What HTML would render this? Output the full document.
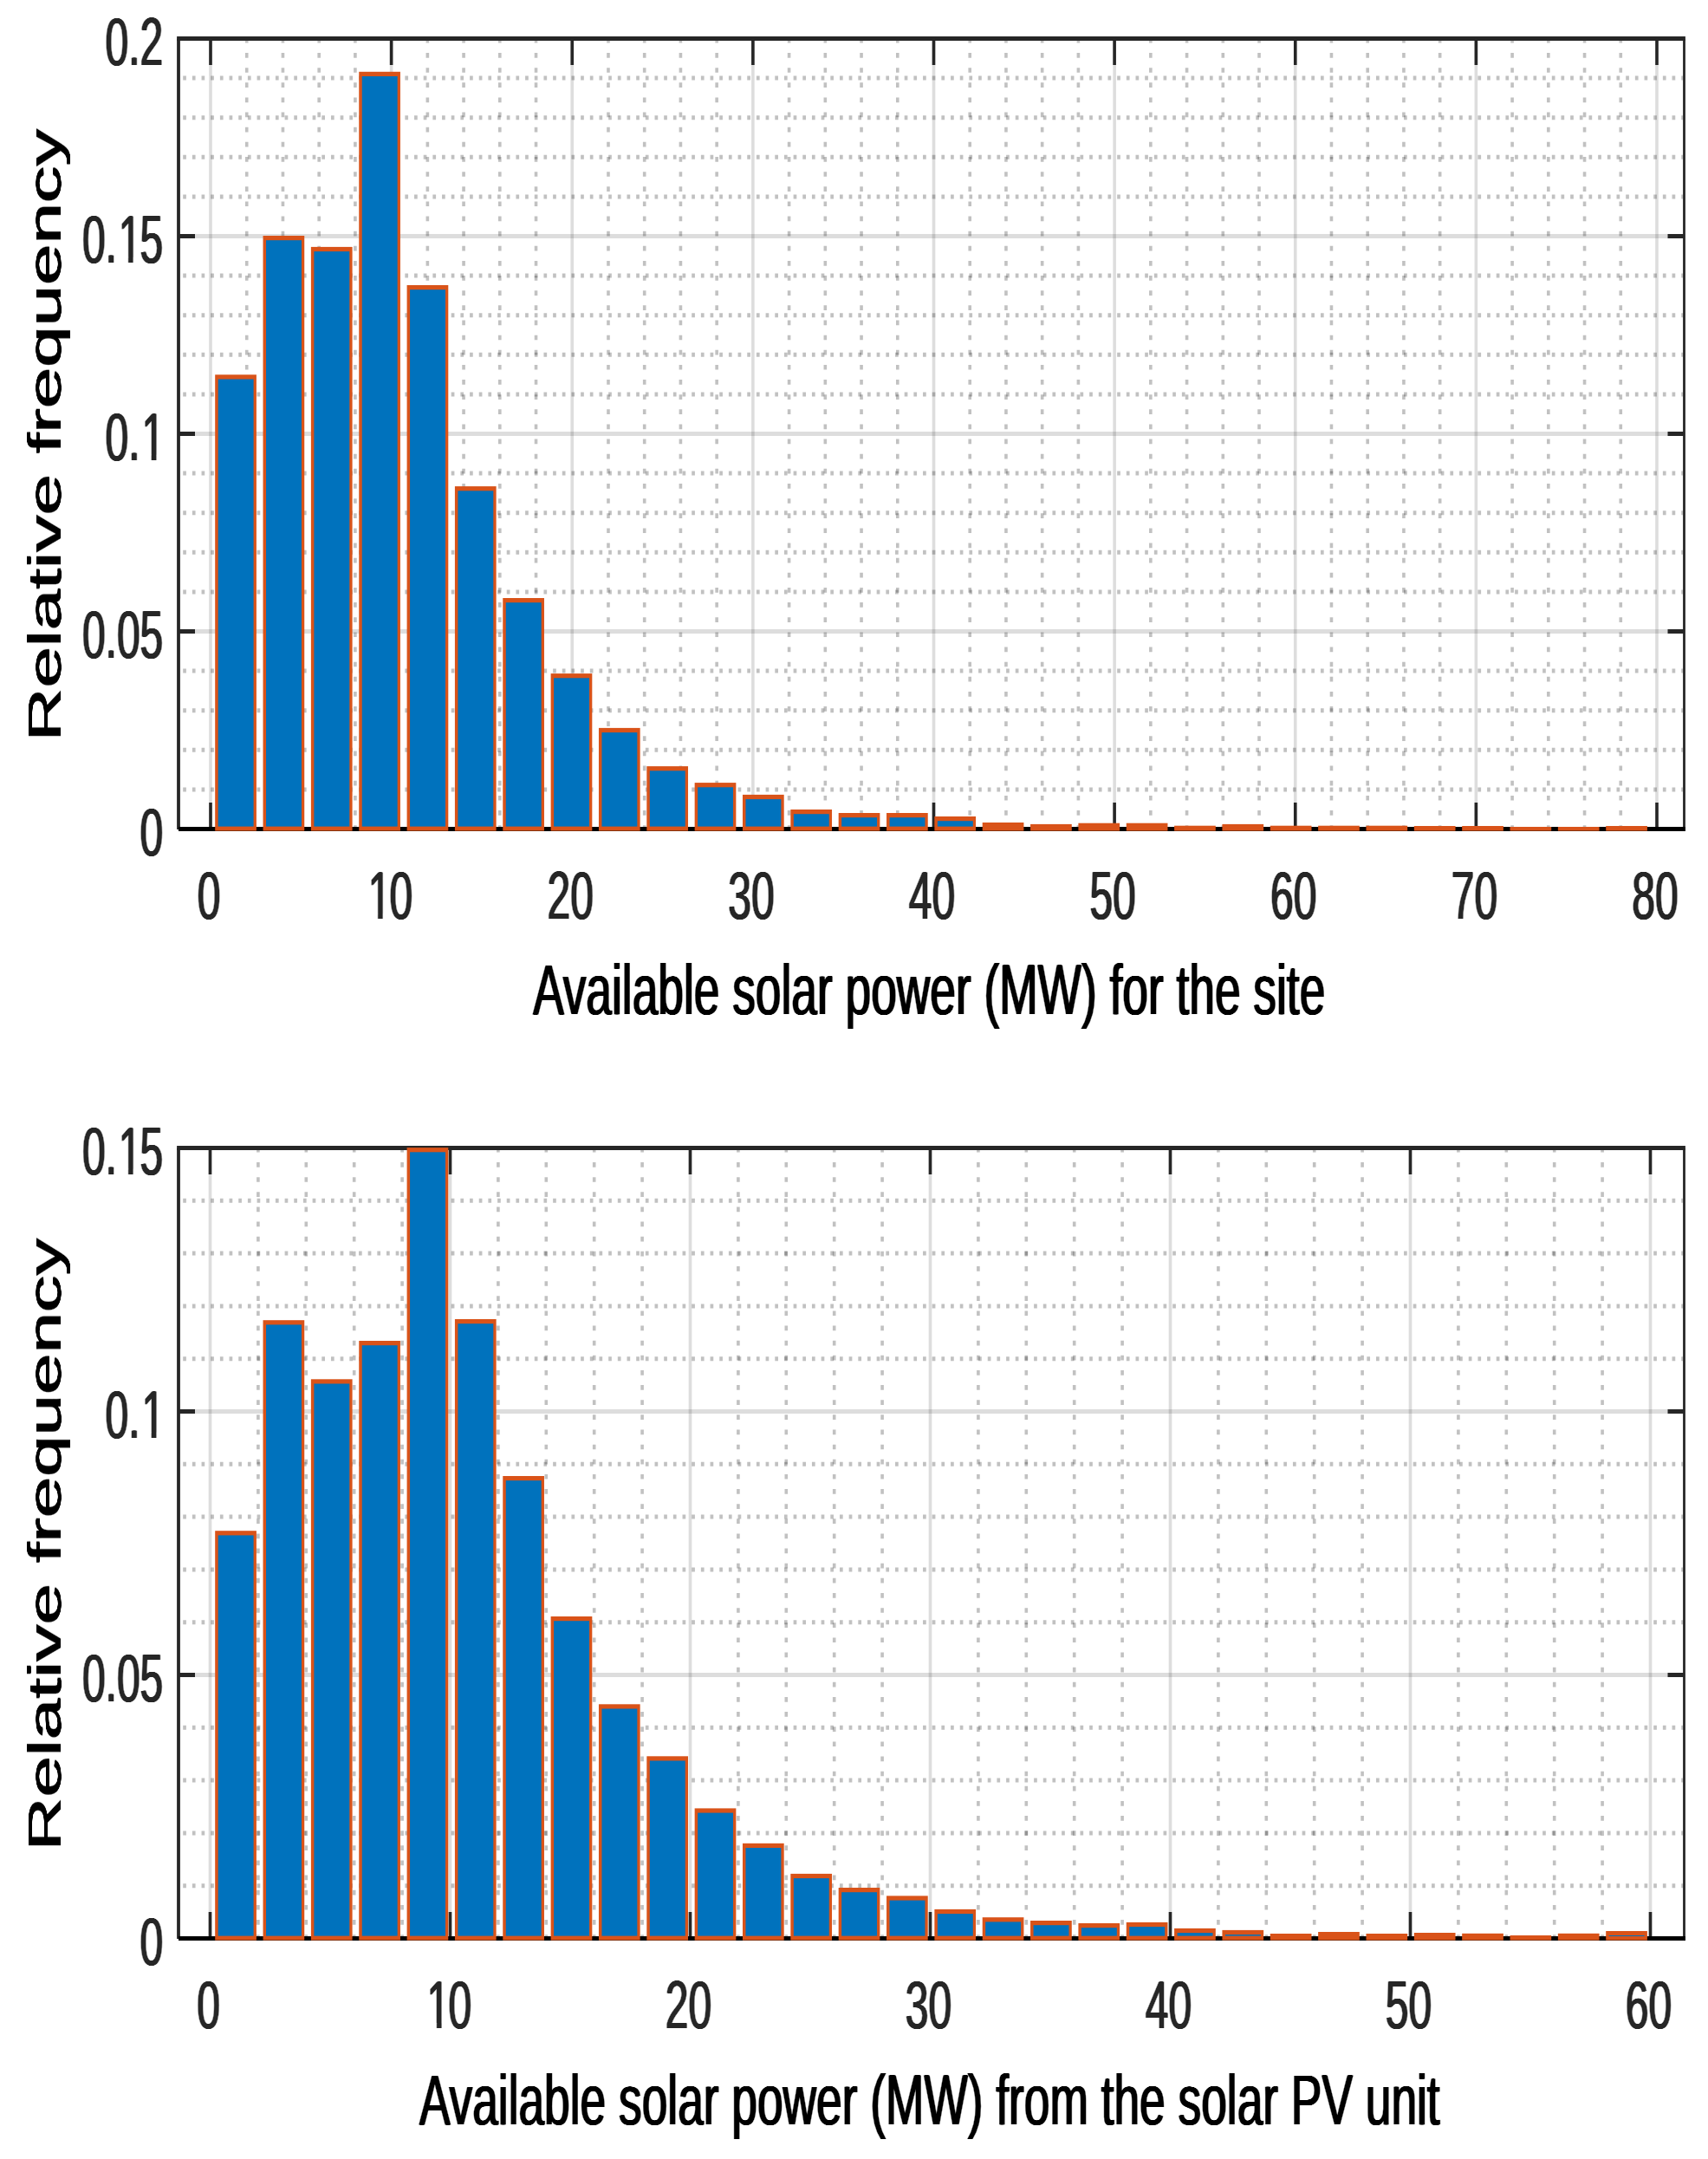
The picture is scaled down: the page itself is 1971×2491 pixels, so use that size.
<!DOCTYPE html>
<html lang="en">
<head>
<meta charset="utf-8">
<title>Relative frequency of available solar power</title>
<style>
html,body{margin:0;padding:0;background:#fff;}
body{width:1971px;height:2491px;overflow:hidden;}
svg{display:block;}
text{font-family:"Liberation Sans",sans-serif;}
.tk text{font-size:48px;fill:#262626;}
.lb{font-size:53.3px;fill:#000;}
</style>
</head>
<body>
<svg width="1971" height="2491" viewBox="0 0 1971 2491">
<defs>
<filter id="bt" x="-5%" y="-5%" width="110%" height="110%" color-interpolation-filters="sRGB"><feConvolveMatrix in="SourceAlpha" order="3 1" kernelMatrix="0.6 1 0.6" divisor="1" edgeMode="none" result="a"/><feFlood flood-color="#262626"/><feComposite in2="a" operator="in"/></filter>
<filter id="bl" x="-5%" y="-5%" width="110%" height="110%" color-interpolation-filters="sRGB"><feConvolveMatrix in="SourceAlpha" order="3 1" kernelMatrix="0.7 1 0.7" divisor="1" edgeMode="none" result="a"/><feFlood flood-color="#000"/><feComposite in2="a" operator="in"/></filter>
<filter id="by" x="-10%" y="-3%" width="120%" height="106%" color-interpolation-filters="sRGB"><feConvolveMatrix in="SourceAlpha" order="3 1" kernelMatrix="0.8 1 0.8" divisor="1" edgeMode="none" result="a"/><feFlood flood-color="#000"/><feComposite in2="a" operator="in"/></filter>
<clipPath id="c10m" clipPathUnits="userSpaceOnUse"><path clip-rule="evenodd" d="M-150 -60H150V30H-150ZM-22.74 -3.71H-12.82V1.2H-22.74ZM-8.58 -3.71H0.96V1.2H-8.58Z"/></clipPath>
<clipPath id="c0_15e" clipPathUnits="userSpaceOnUse"><path clip-rule="evenodd" d="M-150 -60H150V30H-150ZM-49.43 -3.71H-39.52V1.2H-49.43ZM-35.28 -3.71H-25.74V1.2H-35.28Z"/></clipPath>
<clipPath id="c0_1e" clipPathUnits="userSpaceOnUse"><path clip-rule="evenodd" d="M-150 -60H150V30H-150ZM-24.54 -3.71H-14.62V1.2H-24.54ZM-10.38 -3.71H-0.84V1.2H-10.38Z"/></clipPath>
</defs>
<rect width="1971" height="2491" fill="#fff"/>
<g stroke="#262626" stroke-opacity="0.285" stroke-width="5" fill="none" stroke-dasharray="3.7 6.973">
<path d="M211.2 90.1 H1942"/>
<path d="M211.2 135.7 H1942"/>
<path d="M211.2 181.3 H1942"/>
<path d="M211.2 226.9 H1942"/>
<path d="M211.2 318.1 H1942"/>
<path d="M211.2 363.7 H1942"/>
<path d="M211.2 409.3 H1942"/>
<path d="M211.2 454.9 H1942"/>
<path d="M211.2 546.1 H1942"/>
<path d="M211.2 591.7 H1942"/>
<path d="M211.2 637.3 H1942"/>
<path d="M211.2 682.9 H1942"/>
<path d="M211.2 774.1 H1942"/>
<path d="M211.2 819.7 H1942"/>
<path d="M211.2 865.3 H1942"/>
<path d="M211.2 910.9 H1942"/>
</g>
<g stroke="#262626" stroke-opacity="0.285" stroke-width="3.6" fill="none" stroke-dasharray="5.7 11.437">
<path d="M284.73 43.9 V956.5"/>
<path d="M326.45 43.9 V956.5"/>
<path d="M368.18 43.9 V956.5"/>
<path d="M409.9 43.9 V956.5"/>
<path d="M493.35 43.9 V956.5"/>
<path d="M535.08 43.9 V956.5"/>
<path d="M576.8 43.9 V956.5"/>
<path d="M618.52 43.9 V956.5"/>
<path d="M701.98 43.9 V956.5"/>
<path d="M743.7 43.9 V956.5"/>
<path d="M785.42 43.9 V956.5"/>
<path d="M827.15 43.9 V956.5"/>
<path d="M910.6 43.9 V956.5"/>
<path d="M952.33 43.9 V956.5"/>
<path d="M994.05 43.9 V956.5"/>
<path d="M1035.78 43.9 V956.5"/>
<path d="M1119.22 43.9 V956.5"/>
<path d="M1160.95 43.9 V956.5"/>
<path d="M1202.67 43.9 V956.5"/>
<path d="M1244.4 43.9 V956.5"/>
<path d="M1327.85 43.9 V956.5"/>
<path d="M1369.58 43.9 V956.5"/>
<path d="M1411.3 43.9 V956.5"/>
<path d="M1453.03 43.9 V956.5"/>
<path d="M1536.47 43.9 V956.5"/>
<path d="M1578.2 43.9 V956.5"/>
<path d="M1619.92 43.9 V956.5"/>
<path d="M1661.65 43.9 V956.5"/>
<path d="M1745.1 43.9 V956.5"/>
<path d="M1786.83 43.9 V956.5"/>
<path d="M1828.55 43.9 V956.5"/>
<path d="M1870.28 43.9 V956.5"/>
</g>
<g stroke="#262626" stroke-opacity="0.155" fill="none">
<path stroke-width="4.8" d="M206 272.5 H1943.5"/>
<path stroke-width="4.8" d="M206 500.5 H1943.5"/>
<path stroke-width="4.8" d="M206 728.5 H1943.5"/>
<path stroke-width="3.6" d="M243 44.5 V956.5"/>
<path stroke-width="3.6" d="M451.62 44.5 V956.5"/>
<path stroke-width="3.6" d="M660.25 44.5 V956.5"/>
<path stroke-width="3.6" d="M868.88 44.5 V956.5"/>
<path stroke-width="3.6" d="M1077.5 44.5 V956.5"/>
<path stroke-width="3.6" d="M1286.12 44.5 V956.5"/>
<path stroke-width="3.6" d="M1494.75 44.5 V956.5"/>
<path stroke-width="3.6" d="M1703.38 44.5 V956.5"/>
<path stroke-width="3.6" d="M1912 44.5 V956.5"/>
</g>
<g stroke="#262626" fill="none">
<path stroke-width="4.8" d="M204.1 44.5 H1944.9"/>
<path stroke-width="3.8" d="M206 44.5 V956.9"/>
<path stroke-width="2.8" d="M1943.5 44.5 V958.9"/>
<path stroke-width="3.6" d="M243 44.5 v30.4 M243 956.5 v-30.4"/>
<path stroke-width="3.6" d="M451.62 44.5 v30.4 M451.62 956.5 v-30.4"/>
<path stroke-width="3.6" d="M660.25 44.5 v30.4 M660.25 956.5 v-30.4"/>
<path stroke-width="3.6" d="M868.88 44.5 v30.4 M868.88 956.5 v-30.4"/>
<path stroke-width="3.6" d="M1077.5 44.5 v30.4 M1077.5 956.5 v-30.4"/>
<path stroke-width="3.6" d="M1286.12 44.5 v30.4 M1286.12 956.5 v-30.4"/>
<path stroke-width="3.6" d="M1494.75 44.5 v30.4 M1494.75 956.5 v-30.4"/>
<path stroke-width="3.6" d="M1703.38 44.5 v30.4 M1703.38 956.5 v-30.4"/>
<path stroke-width="3.6" d="M1912 44.5 v30.4 M1912 956.5 v-30.4"/>
<path stroke-width="4.8" d="M206 44.5 h19 M1943.5 44.5 h-19"/>
<path stroke-width="4.8" d="M206 272.5 h19 M1943.5 272.5 h-19"/>
<path stroke-width="4.8" d="M206 500.5 h19 M1943.5 500.5 h-19"/>
<path stroke-width="4.8" d="M206 728.5 h19 M1943.5 728.5 h-19"/>
<path stroke-width="4.8" d="M206 956.5 h19 M1943.5 956.5 h-19"/>
</g>
<path stroke="#000" stroke-width="5" d="M206 956.5 H1944.9"/>
<g fill="#D95319"><rect x="248.2" y="432.3" width="47.7" height="526.3"/><rect x="303.54" y="272" width="47.7" height="686.6"/><rect x="358.89" y="284.9" width="47.7" height="673.7"/><rect x="414.24" y="82.8" width="47.7" height="875.8"/><rect x="469.58" y="329" width="47.7" height="629.6"/><rect x="524.92" y="561.1" width="47.7" height="397.5"/><rect x="580.27" y="690" width="47.7" height="268.6"/><rect x="635.62" y="777.1" width="47.7" height="181.5"/><rect x="690.96" y="839.9" width="47.7" height="118.7"/><rect x="746.31" y="884.1" width="47.7" height="74.5"/><rect x="801.65" y="903.1" width="47.7" height="55.5"/><rect x="856.99" y="916.9" width="47.7" height="41.7"/><rect x="912.34" y="934" width="47.7" height="24.6"/><rect x="967.68" y="938" width="47.7" height="20.6"/><rect x="1023.03" y="938" width="47.7" height="20.6"/><rect x="1078.38" y="942" width="47.7" height="16.6"/><rect x="1133.72" y="949" width="47.7" height="9.6"/><rect x="1189.07" y="950.9" width="47.7" height="7.7"/><rect x="1244.41" y="949.7" width="47.7" height="8.9"/><rect x="1299.76" y="949.7" width="47.7" height="8.9"/><rect x="1355.1" y="952.7" width="47.7" height="5.9"/><rect x="1410.44" y="950.9" width="47.7" height="7.7"/><rect x="1465.79" y="952.7" width="47.7" height="5.9"/><rect x="1521.13" y="952.7" width="47.7" height="5.9"/><rect x="1576.48" y="952.7" width="47.7" height="5.9"/><rect x="1631.83" y="953" width="47.7" height="5.6"/><rect x="1687.17" y="953" width="47.7" height="5.6"/><rect x="1742.52" y="954" width="47.7" height="4.6"/><rect x="1797.86" y="954" width="47.7" height="4.6"/><rect x="1853.2" y="953" width="47.7" height="5.6"/></g>
<g fill="#0072BD"><rect x="251.7" y="437.5" width="40.9" height="516.1"/><rect x="307.04" y="277.2" width="40.9" height="676.4"/><rect x="362.39" y="290.1" width="40.9" height="663.5"/><rect x="417.74" y="88" width="40.9" height="865.6"/><rect x="473.08" y="334.2" width="40.9" height="619.4"/><rect x="528.42" y="566.3" width="40.9" height="387.3"/><rect x="583.77" y="695.2" width="40.9" height="258.4"/><rect x="639.12" y="782.3" width="40.9" height="171.3"/><rect x="694.46" y="845.1" width="40.9" height="108.5"/><rect x="749.81" y="889.3" width="40.9" height="64.3"/><rect x="805.15" y="908.3" width="40.9" height="45.3"/><rect x="860.49" y="922.1" width="40.9" height="31.5"/><rect x="915.84" y="939.2" width="40.9" height="14.4"/><rect x="971.18" y="943.2" width="40.9" height="10.4"/><rect x="1026.53" y="943.2" width="40.9" height="10.4"/><rect x="1081.88" y="947.2" width="40.9" height="6.4"/></g>
<g class="tk" filter="url(#bt)">
<text text-anchor="middle" transform="translate(241 1060) scale(1 1.62)">0</text>
<text text-anchor="middle" dx="0.9 -1.8" clip-path="url(#c10m)" transform="translate(449.62 1060) scale(1 1.62)">10</text>
<text text-anchor="middle" transform="translate(658.25 1060) scale(1 1.62)">20</text>
<text text-anchor="middle" transform="translate(866.88 1060) scale(1 1.62)">30</text>
<text text-anchor="middle" transform="translate(1075.5 1060) scale(1 1.62)">40</text>
<text text-anchor="middle" transform="translate(1284.12 1060) scale(1 1.62)">50</text>
<text text-anchor="middle" transform="translate(1492.75 1060) scale(1 1.62)">60</text>
<text text-anchor="middle" transform="translate(1701.38 1060) scale(1 1.62)">70</text>
<text text-anchor="middle" transform="translate(1910 1060) scale(1 1.62)">80</text>
<text text-anchor="end" transform="translate(188.3 74.8) scale(1 1.62)">0.2</text>
<text text-anchor="end" dx="0 0 1.8 -1.8" clip-path="url(#c0_15e)" transform="translate(188.3 302.8) scale(1 1.62)">0.15</text>
<text text-anchor="end" dx="0 0 1.8" clip-path="url(#c0_1e)" transform="translate(190.1 530.8) scale(1 1.62)">0.1</text>
<text text-anchor="end" transform="translate(188.3 758.8) scale(1 1.62)">0.05</text>
<text text-anchor="end" transform="translate(188.3 986.8) scale(1 1.62)">0</text>
</g>
<text class="lb" filter="url(#bl)" text-anchor="middle" transform="translate(1072.2 1169.6) scale(1 1.53)">Available solar power (MW) for the site</text>
<text class="lb" filter="url(#by)" text-anchor="middle" transform="translate(70 501.9) scale(1 1.6) rotate(-90)">Relative frequency</text>
<g stroke="#262626" stroke-opacity="0.285" stroke-width="5" fill="none" stroke-dasharray="3.7 6.973">
<path d="M211.2 1385.3 H1942"/>
<path d="M211.2 1446.1 H1942"/>
<path d="M211.2 1506.9 H1942"/>
<path d="M211.2 1567.7 H1942"/>
<path d="M211.2 1689.3 H1942"/>
<path d="M211.2 1750.1 H1942"/>
<path d="M211.2 1810.9 H1942"/>
<path d="M211.2 1871.7 H1942"/>
<path d="M211.2 1993.3 H1942"/>
<path d="M211.2 2054.1 H1942"/>
<path d="M211.2 2114.9 H1942"/>
<path d="M211.2 2175.7 H1942"/>
</g>
<g stroke="#262626" stroke-opacity="0.285" stroke-width="3.6" fill="none" stroke-dasharray="5.7 11.437">
<path d="M297.9 1323.9 V2236.5"/>
<path d="M353.3 1323.9 V2236.5"/>
<path d="M408.7 1323.9 V2236.5"/>
<path d="M464.1 1323.9 V2236.5"/>
<path d="M574.9 1323.9 V2236.5"/>
<path d="M630.3 1323.9 V2236.5"/>
<path d="M685.7 1323.9 V2236.5"/>
<path d="M741.1 1323.9 V2236.5"/>
<path d="M851.9 1323.9 V2236.5"/>
<path d="M907.3 1323.9 V2236.5"/>
<path d="M962.7 1323.9 V2236.5"/>
<path d="M1018.1 1323.9 V2236.5"/>
<path d="M1128.9 1323.9 V2236.5"/>
<path d="M1184.3 1323.9 V2236.5"/>
<path d="M1239.7 1323.9 V2236.5"/>
<path d="M1295.1 1323.9 V2236.5"/>
<path d="M1405.9 1323.9 V2236.5"/>
<path d="M1461.3 1323.9 V2236.5"/>
<path d="M1516.7 1323.9 V2236.5"/>
<path d="M1572.1 1323.9 V2236.5"/>
<path d="M1682.9 1323.9 V2236.5"/>
<path d="M1738.3 1323.9 V2236.5"/>
<path d="M1793.7 1323.9 V2236.5"/>
<path d="M1849.1 1323.9 V2236.5"/>
</g>
<g stroke="#262626" stroke-opacity="0.155" fill="none">
<path stroke-width="4.8" d="M206 1628.5 H1943.5"/>
<path stroke-width="4.8" d="M206 1932.5 H1943.5"/>
<path stroke-width="3.6" d="M242.5 1324.5 V2236.5"/>
<path stroke-width="3.6" d="M519.5 1324.5 V2236.5"/>
<path stroke-width="3.6" d="M796.5 1324.5 V2236.5"/>
<path stroke-width="3.6" d="M1073.5 1324.5 V2236.5"/>
<path stroke-width="3.6" d="M1350.5 1324.5 V2236.5"/>
<path stroke-width="3.6" d="M1627.5 1324.5 V2236.5"/>
<path stroke-width="3.6" d="M1904.5 1324.5 V2236.5"/>
</g>
<g stroke="#262626" fill="none">
<path stroke-width="4.8" d="M204.1 1324.5 H1944.9"/>
<path stroke-width="3.8" d="M206 1324.5 V2236.9"/>
<path stroke-width="2.8" d="M1943.5 1324.5 V2238.9"/>
<path stroke-width="3.6" d="M242.5 1324.5 v30.4 M242.5 2236.5 v-30.4"/>
<path stroke-width="3.6" d="M519.5 1324.5 v30.4 M519.5 2236.5 v-30.4"/>
<path stroke-width="3.6" d="M796.5 1324.5 v30.4 M796.5 2236.5 v-30.4"/>
<path stroke-width="3.6" d="M1073.5 1324.5 v30.4 M1073.5 2236.5 v-30.4"/>
<path stroke-width="3.6" d="M1350.5 1324.5 v30.4 M1350.5 2236.5 v-30.4"/>
<path stroke-width="3.6" d="M1627.5 1324.5 v30.4 M1627.5 2236.5 v-30.4"/>
<path stroke-width="3.6" d="M1904.5 1324.5 v30.4 M1904.5 2236.5 v-30.4"/>
<path stroke-width="4.8" d="M206 1324.5 h19 M1943.5 1324.5 h-19"/>
<path stroke-width="4.8" d="M206 1628.5 h19 M1943.5 1628.5 h-19"/>
<path stroke-width="4.8" d="M206 1932.5 h19 M1943.5 1932.5 h-19"/>
<path stroke-width="4.8" d="M206 2236.5 h19 M1943.5 2236.5 h-19"/>
</g>
<path stroke="#000" stroke-width="5" d="M206 2236.5 H1944.9"/>
<g fill="#D95319"><rect x="248.2" y="1766.2" width="47.7" height="472.4"/><rect x="303.54" y="1523.2" width="47.7" height="715.4"/><rect x="358.89" y="1591.3" width="47.7" height="647.3"/><rect x="414.24" y="1547" width="47.7" height="691.6"/><rect x="469.58" y="1324.1" width="47.7" height="914.5"/><rect x="524.92" y="1522" width="47.7" height="716.6"/><rect x="580.27" y="1703" width="47.7" height="535.6"/><rect x="635.62" y="1865" width="47.7" height="373.6"/><rect x="690.96" y="1966.3" width="47.7" height="272.3"/><rect x="746.31" y="2026.3" width="47.7" height="212.3"/><rect x="801.65" y="2086.4" width="47.7" height="152.2"/><rect x="856.99" y="2126.8" width="47.7" height="111.8"/><rect x="912.34" y="2161.9" width="47.7" height="76.7"/><rect x="967.68" y="2178" width="47.7" height="60.6"/><rect x="1023.03" y="2187.4" width="47.7" height="51.2"/><rect x="1078.38" y="2202.9" width="47.7" height="35.7"/><rect x="1133.72" y="2212.2" width="47.7" height="26.4"/><rect x="1189.07" y="2216" width="47.7" height="22.6"/><rect x="1244.41" y="2219" width="47.7" height="19.6"/><rect x="1299.76" y="2217.9" width="47.7" height="20.7"/><rect x="1355.1" y="2224.9" width="47.7" height="13.7"/><rect x="1410.44" y="2226.9" width="47.7" height="11.7"/><rect x="1465.79" y="2231" width="47.7" height="7.6"/><rect x="1521.13" y="2229" width="47.7" height="9.6"/><rect x="1576.48" y="2231" width="47.7" height="7.6"/><rect x="1631.83" y="2230" width="47.7" height="8.6"/><rect x="1687.17" y="2230.8" width="47.7" height="7.8"/><rect x="1742.52" y="2233" width="47.7" height="5.6"/><rect x="1797.86" y="2230.8" width="47.7" height="7.8"/><rect x="1853.2" y="2228" width="47.7" height="10.6"/></g>
<g fill="#0072BD"><rect x="251.7" y="1771.4" width="40.9" height="462.2"/><rect x="307.04" y="1528.4" width="40.9" height="705.2"/><rect x="362.39" y="1596.5" width="40.9" height="637.1"/><rect x="417.74" y="1552.2" width="40.9" height="681.4"/><rect x="473.08" y="1329.3" width="40.9" height="904.3"/><rect x="528.42" y="1527.2" width="40.9" height="706.4"/><rect x="583.77" y="1708.2" width="40.9" height="525.4"/><rect x="639.12" y="1870.2" width="40.9" height="363.4"/><rect x="694.46" y="1971.5" width="40.9" height="262.1"/><rect x="749.81" y="2031.5" width="40.9" height="202.1"/><rect x="805.15" y="2091.6" width="40.9" height="142"/><rect x="860.49" y="2132" width="40.9" height="101.6"/><rect x="915.84" y="2167.1" width="40.9" height="66.5"/><rect x="971.18" y="2183.2" width="40.9" height="50.4"/><rect x="1026.53" y="2192.6" width="40.9" height="41"/><rect x="1081.88" y="2208.1" width="40.9" height="25.5"/><rect x="1137.22" y="2217.4" width="40.9" height="16.2"/><rect x="1192.57" y="2221.2" width="40.9" height="12.4"/><rect x="1247.91" y="2224.2" width="40.9" height="9.4"/><rect x="1303.26" y="2223.1" width="40.9" height="10.5"/><rect x="1358.6" y="2230.1" width="40.9" height="3.5"/><rect x="1413.94" y="2232.1" width="40.9" height="1.5"/><rect x="1856.7" y="2233" width="40.9" height="1"/></g>
<g class="tk" filter="url(#bt)">
<text text-anchor="middle" transform="translate(240.5 2340) scale(1 1.62)">0</text>
<text text-anchor="middle" dx="0.9 -1.8" clip-path="url(#c10m)" transform="translate(517.5 2340) scale(1 1.62)">10</text>
<text text-anchor="middle" transform="translate(794.5 2340) scale(1 1.62)">20</text>
<text text-anchor="middle" transform="translate(1071.5 2340) scale(1 1.62)">30</text>
<text text-anchor="middle" transform="translate(1348.5 2340) scale(1 1.62)">40</text>
<text text-anchor="middle" transform="translate(1625.5 2340) scale(1 1.62)">50</text>
<text text-anchor="middle" transform="translate(1902.5 2340) scale(1 1.62)">60</text>
<text text-anchor="end" dx="0 0 1.8 -1.8" clip-path="url(#c0_15e)" transform="translate(188.3 1354.8) scale(1 1.62)">0.15</text>
<text text-anchor="end" dx="0 0 1.8" clip-path="url(#c0_1e)" transform="translate(190.1 1658.8) scale(1 1.62)">0.1</text>
<text text-anchor="end" transform="translate(188.3 1962.8) scale(1 1.62)">0.05</text>
<text text-anchor="end" transform="translate(188.3 2266.8) scale(1 1.62)">0</text>
</g>
<text class="lb" filter="url(#bl)" text-anchor="middle" transform="translate(1072.8 2450.6) scale(1 1.53)">Available solar power (MW) from the solar PV unit</text>
<text class="lb" filter="url(#by)" text-anchor="middle" transform="translate(70 1781.9) scale(1 1.6) rotate(-90)">Relative frequency</text>
</svg>
</body>
</html>
